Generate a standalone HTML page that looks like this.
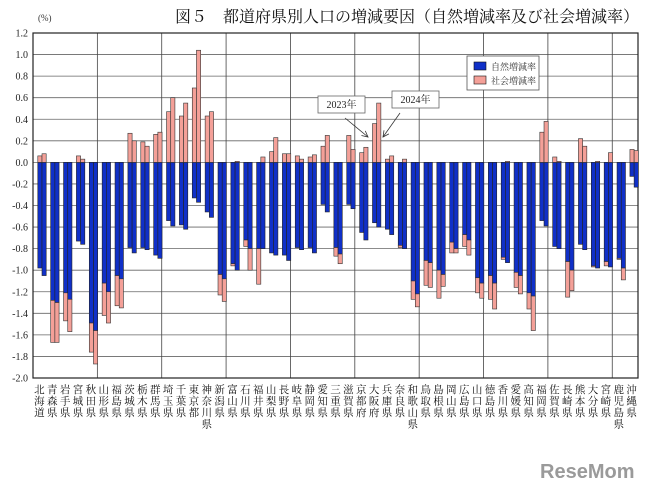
<!DOCTYPE html>
<html><head><meta charset="utf-8"><style>
body{margin:0;background:#fff;width:650px;height:490px;overflow:hidden;font-family:"Liberation Serif","Noto Serif CJK SC",serif}
</style></head><body>
<svg id="c" width="650" height="490" xmlns="http://www.w3.org/2000/svg"></svg>
<script>
const prefs=["北海道","青森県","岩手県","宮城県","秋田県","山形県","福島県","茨城県","栃木県","群馬県","埼玉県","千葉県","東京都","神奈川県","新潟県","富山県","石川県","福井県","山梨県","長野県","岐阜県","静岡県","愛知県","三重県","滋賀県","京都府","大阪府","兵庫県","奈良県","和歌山県","鳥取県","島根県","岡山県","広島県","山口県","徳島県","香川県","愛媛県","高知県","福岡県","佐賀県","長崎県","熊本県","大分県","宮崎県","鹿児島県","沖縄県"];
const nat2023=[-0.98,-1.28,-1.21,-0.73,-1.49,-1.12,-1.05,-0.79,-0.79,-0.86,-0.54,-0.58,-0.33,-0.46,-1.04,-0.94,-0.72,-0.80,-0.84,-0.86,-0.79,-0.79,-0.39,-0.79,-0.39,-0.65,-0.56,-0.62,-0.77,-1.10,-0.91,-1.00,-0.74,-0.67,-1.07,-1.05,-0.88,-1.02,-1.21,-0.54,-0.78,-0.92,-0.76,-0.96,-0.92,-0.89,-0.13];
const soc2023=[0.06,-0.39,-0.26,0.06,-0.27,-0.30,-0.28,0.27,0.19,0.26,0.47,0.43,0.69,0.43,-0.19,-0.02,-0.06,-0.33,0.10,0.08,0.06,0.05,0.15,-0.08,0.25,0.09,0.36,0.03,-0.02,-0.17,-0.23,-0.26,-0.10,-0.11,-0.14,-0.22,-0.02,-0.14,-0.15,0.28,0.05,-0.33,0.22,-0.01,-0.04,-0.01,0.12];
const nat2024=[-1.05,-1.30,-1.27,-0.76,-1.56,-1.20,-1.08,-0.84,-0.81,-0.89,-0.59,-0.62,-0.37,-0.51,-1.08,-1.00,-0.80,-0.80,-0.86,-0.91,-0.81,-0.84,-0.46,-0.85,-0.43,-0.72,-0.60,-0.67,-0.80,-1.22,-0.93,-1.04,-0.80,-0.72,-1.12,-1.12,-0.93,-1.05,-1.24,-0.59,-0.80,-1.00,-0.81,-0.98,-0.97,-0.98,-0.23];
const soc2024=[0.08,-0.37,-0.30,0.03,-0.31,-0.29,-0.27,0.20,0.15,0.28,0.60,0.55,1.04,0.47,-0.21,0.01,-0.20,0.05,0.23,0.08,0.03,0.07,0.25,-0.09,0.12,0.14,0.55,0.06,0.03,-0.12,-0.23,-0.11,-0.04,-0.14,-0.14,-0.24,0.01,-0.17,-0.32,0.38,0.01,-0.19,0.15,0.01,0.09,-0.11,0.11];
const yTicks=["1.2","1.0","0.8","0.6","0.4","0.2","0.0","-0.2","-0.4","-0.6","-0.8","-1.0","-1.2","-1.4","-1.6","-1.8","-2.0"];
const X0=33,X1=638,Y0=33,Y1=378,VMAX=1.2,VMIN=-2.0;
const gw=(X1-X0)/prefs.length;
const y=v=>Y0+(VMAX-v)/(VMAX-VMIN)*(Y1-Y0);
const svg=document.getElementById('c');const NS="http://www.w3.org/2000/svg";
function mk(t,a,p){const e=document.createElementNS(NS,t);for(const k in a)e.setAttribute(k,a[k]);(p||svg).appendChild(e);return e;}
// title
let t=mk('text',{x:175,y:22,'font-size':16,fill:'#111'});t.textContent="図５　都道府県別人口の増減要因（自然増減率及び社会増減率）";

t=mk('text',{x:38,y:21,'font-size':9,fill:'#333'});t.textContent="(%)";

// grid
yTicks.forEach(s=>{const v=parseFloat(s),yy=y(v);
 const l=mk('line',{x1:X0,x2:X1,y1:yy,y2:yy,stroke:'#666','stroke-width':0.8});
 
 const tx=mk('text',{x:28,y:yy+3.5,'font-size':10,'text-anchor':'end',fill:'#222'});tx.textContent=s;
 });
for(let i=5;i<prefs.length;i+=5){const xx=X0+i*gw;
 const l=mk('line',{x1:xx,x2:xx,y1:Y0,y2:Y1,stroke:'#444','stroke-width':0.8});
 }
const fr=mk('rect',{x:X0,y:Y0,width:X1-X0,height:Y1-Y0,fill:'none',stroke:'#222','stroke-width':1.2});

const z=y(0);
function bar(xx,n,s,nm){
 const b=mk('rect',{x:xx,y:z,width:4.2,height:y(n)-z,fill:'#1030c8',stroke:'#222','stroke-width':0.6});
 
 let p;
 if(s>=0)p=mk('rect',{x:xx,y:y(s),width:4.2,height:z-y(s),fill:'#f4a098',stroke:'#333','stroke-width':0.6});
 else p=mk('rect',{x:xx,y:y(n),width:4.2,height:y(n+s)-y(n),fill:'#f4a098',stroke:'#333','stroke-width':0.6});
 
}
prefs.forEach((p,i)=>{const gx=X0+i*gw;
 bar(gx+4.8,nat2023[i],soc2023[i],'bar-2023');
 bar(gx+9,nat2024[i],soc2024[i],'bar-2024');
 const g=mk('text',{'font-size':10.5,fill:'#111','text-anchor':'middle'});
 
 [...p].forEach((ch,k)=>{const ts=mk('tspan',{x:gx+gw/2,y:393+k*11.5},g);ts.textContent=ch;});
});
// legend
const lg=mk('g',{});
mk('rect',{x:467,y:56,width:72,height:34,fill:'#fff',stroke:'#555','stroke-width':0.8},lg);
mk('rect',{x:474,y:62,width:12,height:8,fill:'#1030c8',stroke:'#111','stroke-width':0.6},lg);
mk('rect',{x:474,y:76,width:12,height:8,fill:'#f4a098',stroke:'#111','stroke-width':0.6},lg);
let lt=mk('text',{x:491,y:70,'font-size':9,fill:'#333'},lg);lt.textContent="自然増減率";
lt=mk('text',{x:491,y:84,'font-size':9,fill:'#333'},lg);lt.textContent="社会増減率";
// annotations
function ann(x,yy,w,s,ax,ay,tx,ty,nm){const g=mk('g',{});
 mk('rect',{x:x,y:yy,width:w,height:17,fill:'#fff',stroke:'#666','stroke-width':0.8},g);
 const tt=mk('text',{x:x+w/2,y:yy+12,'font-size':10,'text-anchor':'middle',fill:'#222'},g);tt.textContent=s;
 mk('line',{x1:ax,y1:ay,x2:tx,y2:ty,stroke:'#333','stroke-width':0.8},g);
 const dx=tx-ax,dy=ty-ay,L=Math.hypot(dx,dy),ux=dx/L,uy=dy/L;
 mk('polyline',{points:`${tx-ux*6-uy*3},${ty-uy*6+ux*3} ${tx},${ty} ${tx-ux*6+uy*3},${ty-uy*6-ux*3}`,fill:'none',stroke:'#333','stroke-width':0.8},g);}
ann(318,96,47,"2023年",345,118,368,137,'annotation-2023');
ann(392,91,47,"2024年",400,113,383,137,'annotation-2024');
t=mk('text',{x:540,y:478,'font-size':20,'font-weight':'bold',fill:'#9a9a9a','font-family':'Liberation Sans,sans-serif'});t.textContent="ReseMom";

</script>
</body></html>
